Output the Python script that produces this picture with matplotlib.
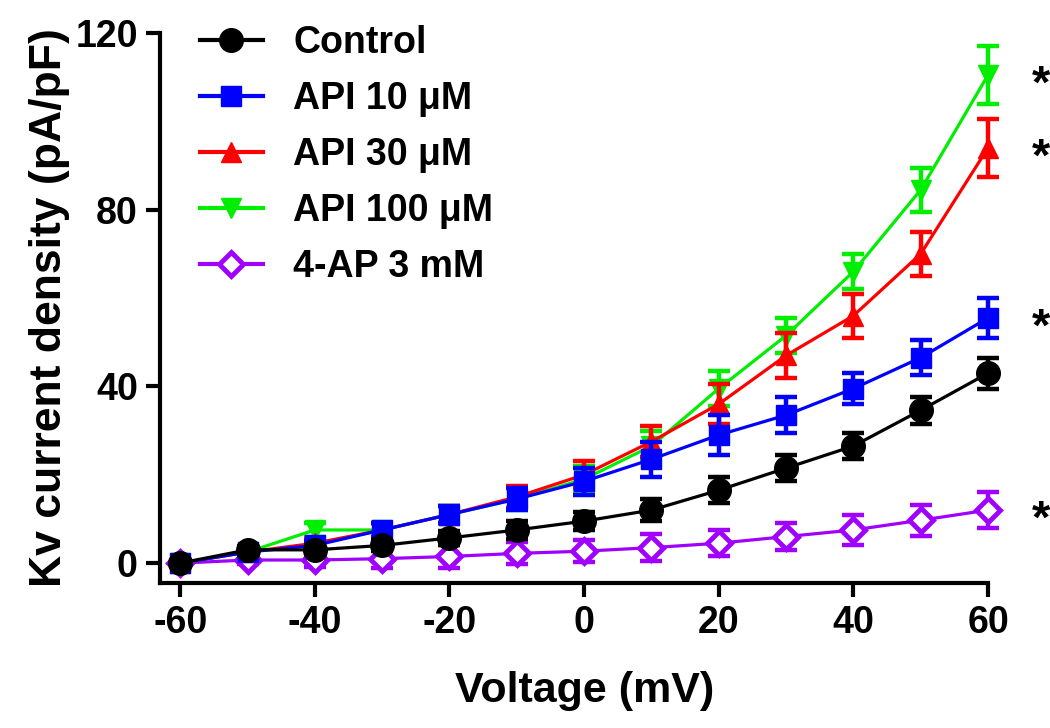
import matplotlib
matplotlib.use("Agg")
import matplotlib.pyplot as plt
from matplotlib.lines import Line2D

voltage = [-60, -50, -40, -30, -20, -10, 0, 10, 20, 30, 40, 50, 60]

control = [0, 3, 3, 4, 5.7, 7.5, 9.5, 12, 16.5, 21.5, 26.5, 34.6, 43]
control_err = [0.5, 0.8, 1, 1.2, 1.5, 2, 2, 2.5, 3, 3, 3, 3, 3.5]

api10 = [0, 2.5, 4, 7.5, 11, 14.5, 18.5, 23.5, 29, 33.5, 39.5, 46.5, 55.5]
api10_err = [0.5, 0.8, 1, 1.5, 2, 2.5, 3, 4, 4.5, 4, 3.5, 4, 4.5]

api30 = [0, 2.5, 4.5, 7.5, 11, 15, 20, 27.5, 36, 47, 56, 70, 94]
api30_err = [0.5, 0.8, 1, 1.5, 2, 2.5, 3, 3.5, 4.5, 5, 5, 5, 6.5]

api100 = [0, 2.5, 7.5, 7.5, 11, 14.5, 19, 26.5, 39.5, 51.5, 66, 84.5, 110.5]
api100_err = [0.5, 0.8, 1.5, 1.5, 2, 2.5, 3, 3.5, 4, 4, 4, 5, 6.5]

ap4 = [0, 0.7, 0.7, 1, 1.5, 2.2, 2.7, 3.5, 4.5, 6, 7.5, 9.7, 12]
ap4_err = [0.5, 1, 1.5, 2, 2.5, 2.5, 2.5, 3, 3, 3, 3.5, 3.5, 4]

labels = ["Control", "API 10 \u03bcM", "API 30 \u03bcM", "API 100 \u03bcM", "4-AP 3 mM"]
colors = ["black", "#0000FF", "#FF0000", "#00EE00", "#A000FF"]
markers = ["o", "s", "^", "v", "D"]

xticks = [-60, -40, -20, 0, 20, 40, 60]
yticks = [0, 40, 80, 120]
star_vals = [api100[-1], api30[-1], api10[-1], ap4[-1]]

plt.rcParams['font.family'] = ['Liberation Sans', 'DejaVu Sans']
plt.rcParams['font.weight'] = 'bold'
plt.rcParams['axes.unicode_minus'] = False

fig = plt.figure(figsize=(10.5, 7.28), dpi=100)
ax = fig.add_axes([0.1524, 0.1992, 0.7886, 0.7555])

series = [control, api10, api30, api100, ap4]
errs = [control_err, api10_err, api30_err, api100_err, ap4_err]
msizes = [17, 15, 15, 15, 12]
order = [4, 3, 2, 1, 0]
for z, i in enumerate(order):
    mfc = 'white' if i == 4 else colors[i]
    mew = 3.5 if i == 4 else 1
    ax.errorbar(voltage, series[i], yerr=errs[i], fmt='none', ecolor=colors[i],
                elinewidth=3.2, capsize=8, capthick=3.2,
                zorder=3 + 2 * z, clip_on=False)
    ax.plot(voltage, series[i], color=colors[i], marker=markers[i],
            markersize=msizes[i], markerfacecolor=mfc, markeredgecolor=colors[i],
            markeredgewidth=mew, linewidth=2.3, zorder=4 + 2 * z, clip_on=False)

handles = []
for i in range(5):
    mfc = 'white' if i == 4 else colors[i]
    handles.append(Line2D([], [], color=colors[i], marker=markers[i],
                          markersize=msizes[i], markerfacecolor=mfc,
                          markeredgecolor=colors[i],
                          markeredgewidth=3.5 if i == 4 else 1, linewidth=3))

for v in star_vals:
    ax.annotate("*", xy=(60, v), xytext=(38, -8), textcoords='offset points',
                fontsize=34, fontweight='bold', ha='center', va='center',
                annotation_clip=False)

ax.set_xlim(-63, 60)
ax.set_ylim(-4.5, 120)
ax.set_xticks(xticks)
ax.set_yticks(yticks)
ax.tick_params(axis='both', which='major', direction='out', length=10, width=3,
               labelsize=27, pad=6)
for lab in ax.get_xticklabels() + ax.get_yticklabels():
    lab.set_fontweight('bold')
for s in ['top', 'right']:
    ax.spines[s].set_visible(False)
for s in ['left', 'bottom']:
    ax.spines[s].set_linewidth(3)

ax.set_xlabel("Voltage (mV)", fontsize=31, fontweight='bold')
ax.xaxis.set_label_coords(0.513, -0.16)
ax.set_ylabel("Kv current density (pA/pF)", fontsize=32, fontweight='bold', labelpad=4)

leg = ax.legend(handles, labels, loc='upper left', bbox_to_anchor=(0.007, 1.075),
                frameon=False, fontsize=27, handlelength=1.7, labelspacing=0.53,
                handletextpad=0.8)
for t in leg.get_texts():
    t.set_fontweight('bold')

fig.savefig("out.png", dpi=100)
